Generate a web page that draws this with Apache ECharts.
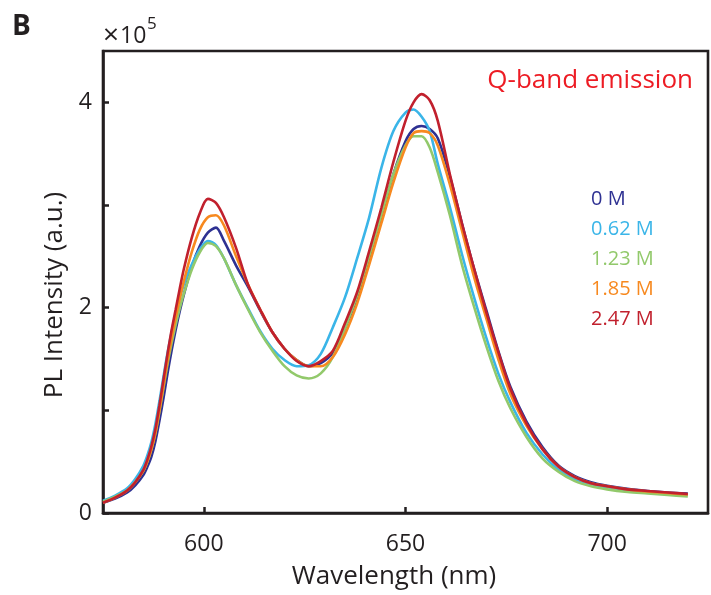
<!DOCTYPE html>
<html>
<head>
<meta charset="utf-8">
<script src="https://cdn.jsdelivr.net/npm/echarts@6/dist/echarts.min.js"></script>
<style>
html,body{margin:0;padding:0;background:#fff;}
#chart{width:711px;height:595px;}
</style>
</head>
<body>
<div id="chart"></div>
<script>
// Wavelength (nm)
const wavelengths = [575,578,581,583,585,586,587,588,589,590,591,592,593,594,595,597,599,601,603,605,608,611,614,617,620,623,626,629,632,635,638,641,644,647,650,652,654,656,658,661,664,667,670,673,676,680,684,688,692,696,700,705,710,715,720];
// PL intensity in units of 1e5 (a.u.)
const s0M    = [0.10,0.14,0.20,0.27,0.37,0.45,0.55,0.70,0.90,1.12,1.36,1.58,1.78,1.96,2.12,2.40,2.60,2.73,2.78,2.65,
                2.41,2.20,1.97,1.76,1.60,1.49,1.43,1.46,1.56,1.80,2.10,2.48,2.88,3.30,3.62,3.74,3.77,3.74,3.65,3.28,2.82,2.38,1.98,1.58,1.23,0.89,0.64,0.46,0.36,0.30,0.265,0.235,0.215,0.20,0.19];
const s062M  = [0.12,0.17,0.24,0.33,0.46,0.56,0.69,0.87,1.09,1.33,1.56,1.76,1.94,2.09,2.22,2.42,2.57,2.65,2.61,2.48,
                2.22,1.99,1.77,1.60,1.49,1.43,1.44,1.55,1.81,2.10,2.48,2.88,3.36,3.72,3.90,3.93,3.86,3.72,3.40,2.98,2.52,2.10,1.71,1.36,1.08,0.78,0.57,0.42,0.33,0.28,0.25,0.22,0.205,0.19,0.175];
const s123M  = [0.11,0.16,0.22,0.30,0.41,0.50,0.62,0.78,0.99,1.22,1.45,1.65,1.83,1.99,2.13,2.37,2.54,2.63,2.60,2.48,
                2.22,1.98,1.76,1.58,1.43,1.34,1.31,1.36,1.52,1.80,2.12,2.50,2.90,3.30,3.58,3.67,3.67,3.56,3.32,2.90,2.42,2.01,1.63,1.29,1.02,0.74,0.53,0.40,0.31,0.26,0.23,0.205,0.19,0.175,0.16];
const s185M  = [0.10,0.15,0.22,0.30,0.41,0.50,0.62,0.78,1.00,1.24,1.48,1.70,1.90,2.08,2.25,2.54,2.76,2.88,2.90,2.80,
                2.50,2.22,1.98,1.76,1.60,1.49,1.43,1.43,1.52,1.74,2.04,2.42,2.82,3.22,3.56,3.70,3.72,3.70,3.58,3.20,2.75,2.30,1.90,1.50,1.16,0.85,0.62,0.45,0.35,0.29,0.26,0.23,0.21,0.195,0.18];
const s247M  = [0.10,0.15,0.22,0.30,0.42,0.52,0.65,0.82,1.05,1.30,1.55,1.78,1.98,2.18,2.37,2.68,2.92,3.06,3.02,2.88,
                2.58,2.22,1.98,1.76,1.60,1.48,1.43,1.48,1.58,1.85,2.15,2.55,2.97,3.42,3.82,4.00,4.08,4.02,3.82,3.30,2.82,2.38,1.96,1.57,1.21,0.87,0.62,0.45,0.35,0.29,0.26,0.23,0.215,0.20,0.185];
const seriesNames = ['0 M','0.62 M','1.23 M','1.85 M','2.47 M'];
const seriesValues = [s0M, s062M, s123M, s185M, s247M];
const colors = ['#2e3192','#3ab5e8','#92c96b','#f7891f','#c1202d'];
const xTicks = [600,650,700];
const yTicks = [0,1,2,3,4];
const yLabels = [0,2,4];

const axisColor = '#231f20';
const font = 'Open Sans';

const chart = echarts.init(document.getElementById('chart'), null, {renderer:'canvas'});
const series = seriesNames.map((n,i)=>({
  name:n, type:'line', showSymbol:false, smooth:0.3,
  lineStyle:{width:2.6,color:colors[i]}, itemStyle:{color:colors[i]},
  data: wavelengths.map((w,j)=>[w, seriesValues[i][j]]),
  z: 2+i
}));

chart.setOption({
  animation:false,
  grid:{left:103,right:3,top:51,bottom:78.5,show:true,borderColor:axisColor,borderWidth:2.6,containLabel:false},
  xAxis:{
    type:'value', min:575, max:725,
    name:'Wavelength (nm)', nameLocation:'middle', nameGap:51,
    nameTextStyle:{fontFamily:font,fontSize:26,color:axisColor,padding:[0,23,0,0]},
    axisLine:{show:true,lineStyle:{color:axisColor,width:2.6}},
    axisTick:{show:true,inside:true,length:6,lineStyle:{color:axisColor,width:2.5},customValues:xTicks},
    axisLabel:{fontFamily:font,fontSize:23,color:axisColor,margin:20,customValues:xTicks},
    splitLine:{show:false}
  },
  yAxis:{
    type:'value', min:0, max:4.5,
    name:'PL Intensity (a.u.)', nameLocation:'middle', nameGap:31,
    nameTextStyle:{fontFamily:font,fontSize:26,color:axisColor,padding:[0,26,0,0]},
    axisLine:{show:true,lineStyle:{color:axisColor,width:2.6}},
    axisTick:{show:true,inside:true,length:6,lineStyle:{color:axisColor,width:2.5},customValues:yTicks},
    axisLabel:{fontFamily:font,fontSize:23,color:axisColor,margin:11,padding:[10,0,0,0],customValues:yLabels},
    splitLine:{show:false}
  },
  legend:{
    orient:'vertical', left:581, top:184, selectedMode:false,
    itemWidth:0, itemHeight:0, itemGap:10, icon:'rect',
    data: seriesNames.map((n,i)=>({name:n, textStyle:{color:colors[i]}})),
    textStyle:{fontFamily:font,fontSize:20,lineHeight:20}
  },
  graphic:[
    {type:'text', left:12, top:13, style:{text:'B', font:'bold 28px "Open Sans"', fill:axisColor}},
    {type:'text', left:103, top:22, style:{text:'×', font:'28px "Open Sans"', fill:axisColor}},
    {type:'text', left:120, top:25, style:{text:'10', font:'23px "Open Sans"', fill:axisColor}},
    {type:'text', left:147, top:16, style:{text:'5', font:'17px "Open Sans"', fill:axisColor}},
    {type:'text', right:18, top:68, style:{text:'Q-band emission', font:'26px "Open Sans"', fill:'#ed1c24'}}
  ],
  series: series
});
</script>
</body>
</html>
